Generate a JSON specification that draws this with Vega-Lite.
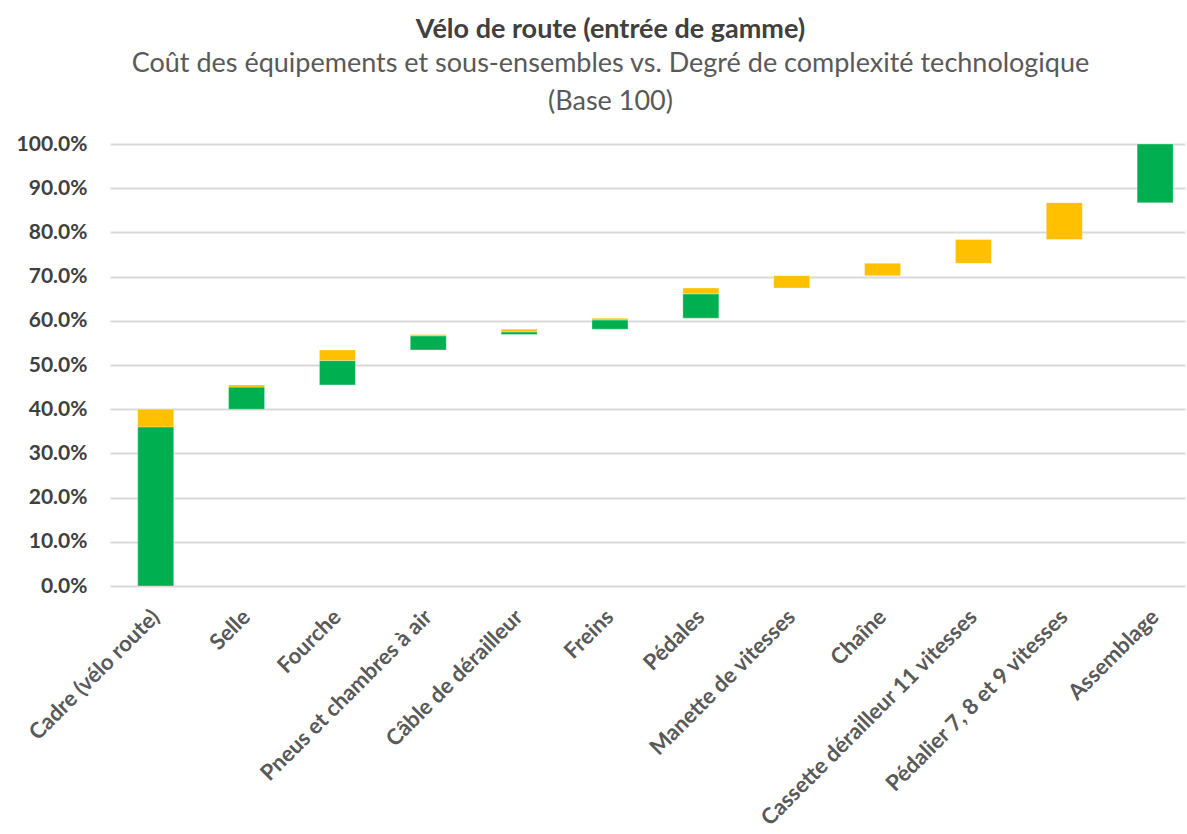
{
  "$schema": "https://vega.github.io/schema/vega-lite/v6.json",
  "autosize": "none",
  "padding": {"left": 110, "top": 144, "right": 2, "bottom": 248},
  "width": 1075,
  "height": 442,
  "background": "white",
  "title": {
    "text": "Vélo de route (entrée de gamme)",
    "subtitle": ["Coût des équipements et sous-ensembles vs. Degré de complexité technologique", "(Base 100)"],
    "anchor": "middle",
    "dx": -37,
    "offset": 17,
    "font": "Lato",
    "fontSize": 27,
    "fontWeight": "bold",
    "color": "#404040",
    "subtitleFont": "Lato",
    "subtitleFontSize": 27,
    "subtitleColor": "#595959",
    "subtitleLineHeight": 38,
    "subtitlePadding": 7
  },
  "config": {
    "view": {"stroke": null},
    "font": "Lato"
  },
  "data": {
    "values": [
      {"cat": "Cadre (vélo route)", "seg": "a", "start": 0.0, "end": 0.36},
      {"cat": "Cadre (vélo route)", "seg": "b", "start": 0.36, "end": 0.40},
      {"cat": "Selle", "seg": "a", "start": 0.40, "end": 0.45},
      {"cat": "Selle", "seg": "b", "start": 0.45, "end": 0.455},
      {"cat": "Fourche", "seg": "a", "start": 0.455, "end": 0.51},
      {"cat": "Fourche", "seg": "b", "start": 0.51, "end": 0.534},
      {"cat": "Pneus et chambres à air", "seg": "a", "start": 0.534, "end": 0.566},
      {"cat": "Pneus et chambres à air", "seg": "b", "start": 0.566, "end": 0.569},
      {"cat": "Câble de dérailleur", "seg": "a", "start": 0.569, "end": 0.575},
      {"cat": "Câble de dérailleur", "seg": "b", "start": 0.575, "end": 0.581},
      {"cat": "Freins", "seg": "a", "start": 0.581, "end": 0.602},
      {"cat": "Freins", "seg": "b", "start": 0.602, "end": 0.606},
      {"cat": "Pédales", "seg": "a", "start": 0.606, "end": 0.661},
      {"cat": "Pédales", "seg": "b", "start": 0.661, "end": 0.674},
      {"cat": "Manette de vitesses", "seg": "b", "start": 0.674, "end": 0.702},
      {"cat": "Chaîne", "seg": "b", "start": 0.702, "end": 0.730},
      {"cat": "Cassette dérailleur 11 vitesses", "seg": "b", "start": 0.730, "end": 0.784},
      {"cat": "Pédalier 7, 8 et 9 vitesses", "seg": "b", "start": 0.784, "end": 0.867},
      {"cat": "Assemblage", "seg": "a", "start": 0.867, "end": 1.0}
    ]
  },
  "mark": {"type": "bar", "stroke": "#ffffff", "strokeWidth": 0.5, "strokeOpacity": 0.6},
  "encoding": {
    "x": {
      "field": "cat",
      "type": "nominal",
      "sort": null,
      "title": null,
      "scale": {"paddingInner": 0.604, "paddingOuter": 0.218, "align": 0.7},
      "axis": {
        "labelAngle": -45,
        "labelAlign": "right",
        "labelBaseline": "middle",
        "labelFont": "Lato",
        "labelFontSize": 22,
        "labelFontWeight": "bold",
        "labelColor": "#595959",
        "labelPadding": 27,
        "labelLimit": 400,
        "ticks": false,
        "domain": false,
        "grid": false
      }
    },
    "y": {
      "field": "start",
      "type": "quantitative",
      "title": null,
      "scale": {"domain": [0, 1], "nice": false, "zero": true},
      "axis": {
        "values": [0, 0.1, 0.2, 0.3, 0.4, 0.5, 0.6, 0.7, 0.8, 0.9, 1.0],
        "format": ".1%",
        "labelFont": "Lato",
        "labelFontSize": 21,
        "labelFontWeight": "bold",
        "labelColor": "#404040",
        "labelPadding": 23,
        "ticks": false,
        "domain": false,
        "grid": true,
        "gridColor": "#d9d9d9",
        "gridWidth": 2
      }
    },
    "y2": {"field": "end"},
    "color": {
      "field": "seg",
      "type": "nominal",
      "scale": {"domain": ["a", "b"], "range": ["#00B050", "#FFC000"]},
      "legend": null
    }
  }
}
